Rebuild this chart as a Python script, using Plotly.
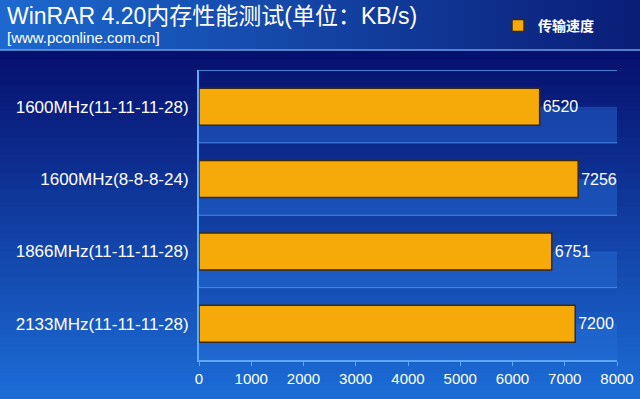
import plotly.graph_objects as go

categories = ["1600MHz(11-11-11-28)", "1600MHz(8-8-8-24)", "1866MHz(11-11-11-28)", "2133MHz(11-11-11-28)"]
speed = [6520, 7256, 6751, 7200]
x_ticks = [0, 1000, 2000, 3000, 4000, 5000, 6000, 7000, 8000]
series_name = "传输速度"
title_text = "WinRAR 4.20内存性能测试(单位：KB/s)"
subtitle_text = "[www.pconline.com.cn]"

W, H = 640, 399
ML, MR, MT, MB = 199, 23, 70, 39
PW, PH = W - ML - MR, H - MT - MB

def px2x(px):
    return (px - ML) / PW

def py2y(py):
    return (H - MB - py) / PH

def lerp(c1, c2, t):
    return "rgb(%d,%d,%d)" % tuple(round(a + (b - a) * t) for a, b in zip(c1, c2))

shapes = []
# header horizontal gradient
n = 40
for i in range(n):
    x0 = i * W / n
    x1 = (i + 1) * W / n + 1
    shapes.append(dict(type="rect", xref="paper", yref="paper", layer="below",
                       x0=px2x(x0), x1=px2x(x1), y0=py2y(50), y1=py2y(0),
                       fillcolor=lerp((28, 104, 206), (10, 30, 120), i / (n - 1)), line_width=0))
# body vertical gradient
m = 40
top, bot = 50, H
for i in range(m):
    y0 = top + i * (bot - top) / m
    y1 = top + (i + 1) * (bot - top) / m + 1
    shapes.append(dict(type="rect", xref="paper", yref="paper", layer="below",
                       x0=px2x(0), x1=px2x(W), y0=py2y(y1), y1=py2y(y0),
                       fillcolor=lerp((6, 16, 110), (28, 108, 214), i / (m - 1)), line_width=0))
# header separator line
shapes.append(dict(type="line", xref="paper", yref="paper", layer="below",
                   x0=px2x(0), x1=px2x(W), y0=py2y(50), y1=py2y(50),
                   line=dict(color="rgb(110,160,230)", width=1.5)))
# lighter lower half of each band (3D floor effect) and band gridlines
for i in range(len(categories)):
    shapes.append(dict(type="rect", xref="x", yref="y", layer="below",
                       x0=x_ticks[0], x1=x_ticks[-1], y0=i, y1=i + 0.5,
                       fillcolor="rgba(40,110,215,0.45)", line_width=0))
    shapes.append(dict(type="line", xref="x", yref="y", layer="below",
                       x0=x_ticks[0], x1=x_ticks[-1], y0=i - 0.5, y1=i - 0.5,
                       line=dict(color="rgba(90,150,240,0.8)", width=1)))

fig = go.Figure()
fig.add_trace(go.Bar(
    y=categories, x=speed, orientation="h", name=series_name,
    width=0.51,
    marker=dict(color="#f6aa0a", line=dict(color="#3a2a10", width=1.5)),
    text=[str(v) for v in speed], textposition="outside",
    textfont=dict(color="white", size=16, family="Liberation Sans, Arial"),
    cliponaxis=False,
))

fig.update_layout(
    width=W, height=H,
    margin=dict(l=ML, r=MR, t=MT, b=MB, autoexpand=False),
    paper_bgcolor="rgb(14,50,150)",
    plot_bgcolor="rgba(0,0,0,0)",
    shapes=shapes,
    showlegend=True,
    legend=dict(x=px2x(498), y=py2y(10), xanchor="left", yanchor="top",
                bgcolor="rgba(0,0,0,0)",
                font=dict(color="white", size=14, family="Noto Sans CJK SC", weight="bold"),
                itemwidth=30),
    annotations=[
        dict(text=title_text, xref="paper", yref="paper", x=px2x(5), y=py2y(1),
             xanchor="left", yanchor="top", showarrow=False,
             font=dict(color="white", size=23, family="Liberation Sans, Noto Sans CJK SC")),
        dict(text=subtitle_text, xref="paper", yref="paper", x=px2x(5), y=py2y(27),
             xanchor="left", yanchor="top", showarrow=False,
             font=dict(color="white", size=15, family="Liberation Sans, Arial")),
    ],
    xaxis=dict(range=[x_ticks[0], x_ticks[-1]], tickvals=x_ticks, showgrid=False,
               zeroline=False, showline=True, linecolor="rgb(90,170,255)", linewidth=1.5,
               ticks="outside", ticklen=4, tickcolor="rgb(90,170,255)",
               tickfont=dict(color="white", size=15, family="Liberation Sans, Arial")),
    yaxis=dict(autorange="reversed", showgrid=False, zeroline=False, showline=True,
               linecolor="rgb(90,170,255)", linewidth=2, ticks="",
               ticklabelstandoff=5,
               tickfont=dict(color="white", size=17, family="Liberation Sans, Arial")),
    bargap=0.49,
)

fig.write_html("out.html", config={"displayModeBar": False},
               post_script="document.body.style.margin='0';document.body.style.overflow='hidden';")
